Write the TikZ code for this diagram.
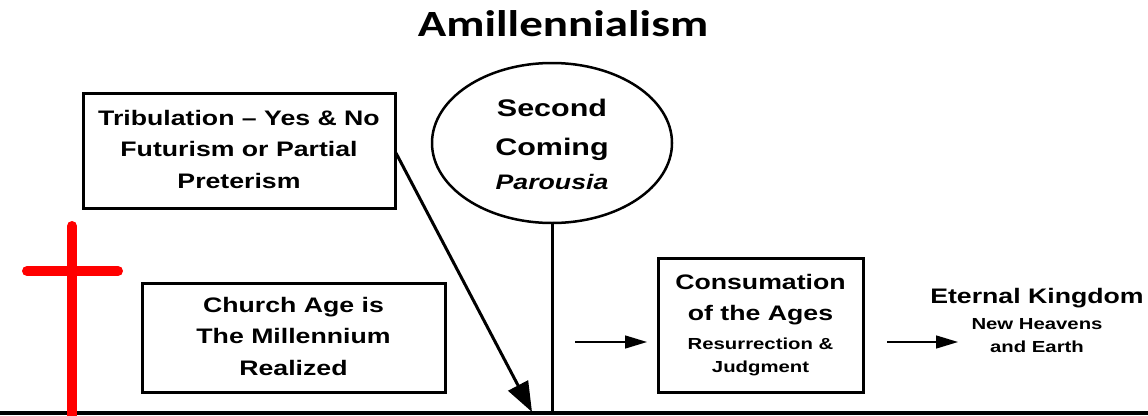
\documentclass[tikz,border=0pt]{standalone}
\usepackage{fontspec}
\setmainfont{Liberation Sans}
\newfontfamily\titlefont{Carlito}
\usetikzlibrary{shapes.geometric,arrows.meta}
\newcommand{\wide}[1]{\scalebox{1.27}[1]{\begin{tabular}{@{}c@{}}#1\end{tabular}}}
\tikzset{
  box/.style={draw=black, line width=3pt, inner sep=0pt},
  bodyfont/.style={font=\bfseries\fontsize{21}{31.5}\selectfont},
  thinarrow/.style={line width=1.4pt, -{Triangle[length=22pt,width=13pt]}},
  bigarrow/.style={line width=3pt, -{Triangle[length=30pt,width=22pt]}},
  crossline/.style={draw=red, line width=10pt, line cap=round},
}
\begin{document}
\begin{tikzpicture}[x=1pt,y=-1pt]
\useasboundingbox (0,0) rectangle (1148,415);
\fill[white] (0,0) rectangle (1148,415);

% title
\node[anchor=base, inner sep=0pt, font=\titlefont\bfseries\fontsize{37}{40}\selectfont] (title) at (563,36) {\scalebox{1.27}[1]{Amillennialism}};

% baseline
\coordinate (L) at (0,413);
\coordinate (R) at (1148,413);
\draw[line width=4.5pt] (L) -- (R);

% red cross
\coordinate (cv1) at (72,226);
\coordinate (cv2) at (72,420);
\coordinate (ch1) at (27,271);
\coordinate (ch2) at (118,271);
\draw[crossline] (cv1) -- (cv2);
\draw[crossline] (ch1) -- (ch2);

% tribulation box
\node[box, bodyfont, minimum width=312pt, minimum height=115pt] (trib) at (239,150.5)
  {\wide{Tribulation -- Yes \& No\\Futurism or Partial\\Preterism}};

% church age box
\node[box, bodyfont, minimum width=303pt, minimum height=109pt] (church) at (293.5,337.5)
  {\wide{Church Age is\\The Millennium\\Realized}};

% second coming ellipse
\node[ellipse, draw=black, line width=2.5pt, minimum width=240pt, minimum height=160pt, inner sep=0pt,
      font=\bfseries\fontsize{24}{36}\selectfont] (second) at (552,143)
  {\raisebox{-3pt}[\height][\depth]{\wide{Second\\[3pt]Coming\\[-2pt]{\fontsize{21}{25}\selectfont\itshape Parousia}}}};

\coordinate (sc) at (552,413);
\draw[line width=3pt] (second.south) -- (sc);

% diagonal arrow
\coordinate (dstart) at (396,153);
\coordinate (dend) at (532,412);
\draw[bigarrow] (dstart) -- (dend);

% consummation box
\node[box, bodyfont, minimum width=205pt, minimum height=134pt] (cons) at (760.5,325)
  {\fontsize{21}{31}\selectfont\wide{Consumation\\of the Ages\\[-2pt]{\fontsize{16}{20}\selectfont Resurrection \&}\\[-8pt]{\fontsize{16}{20}\selectfont Judgment}}};

\coordinate (a1) at (575,342);
\coordinate (a1e) at (647,342);
\draw[thinarrow] (a1) -- (a1e);

% eternal kingdom
\node[inner sep=0pt, font=\bfseries\fontsize{21}{26}\selectfont] (eternal) at (1037,323)
  {\wide{Eternal Kingdom\\{\fontsize{16}{20}\selectfont New Heavens}\\[-3pt]{\fontsize{16}{20}\selectfont and Earth}}};

\coordinate (a2) at (887,342);
\coordinate (a2e) at (958,342);
\draw[thinarrow] (a2) -- (a2e);
\end{tikzpicture}
\end{document}
